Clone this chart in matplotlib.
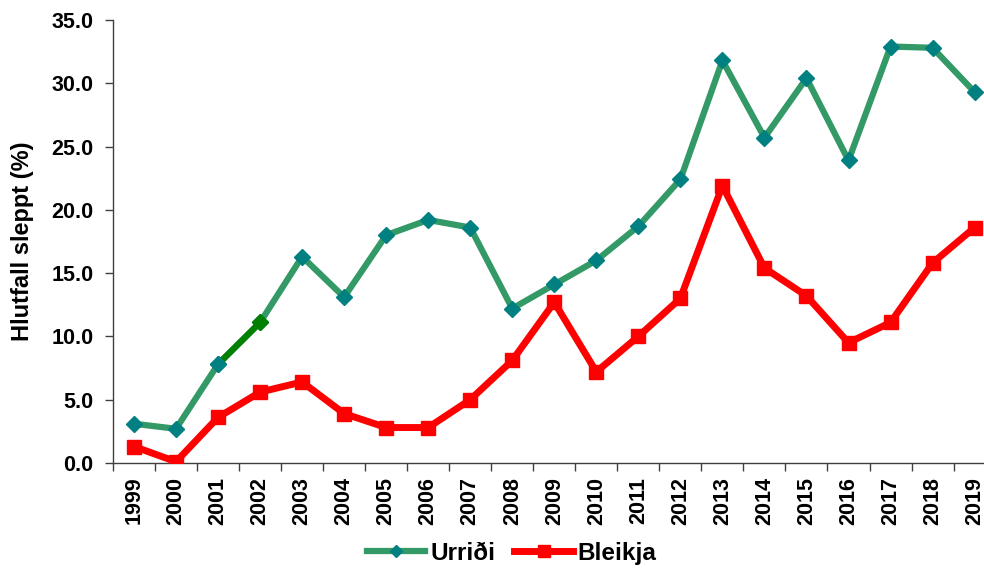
import numpy as np
import matplotlib.pyplot as plt
from matplotlib.ticker import FixedLocator, FormatStrFormatter

plt.rcParams['font.family'] = ['Liberation Sans', 'DejaVu Sans']
plt.rcParams['font.weight'] = 'bold'

years = [str(y) for y in range(1999, 2020)]
urridi = [3.1, 2.7, 7.8, 11.1, 16.3, 13.1, 18.0, 19.2, 18.6, 12.2, 14.1,
          16.0, 18.7, 22.4, 31.8, 25.7, 30.4, 23.9, 32.9, 32.8, 29.3]
bleikja = [1.3, 0.1, 3.6, 5.6, 6.4, 3.9, 2.8, 2.8, 5.0, 8.1, 12.7,
           7.2, 10.0, 13.0, 21.9, 15.4, 13.2, 9.5, 11.1, 15.8, 18.6]

x = np.arange(len(years))

fig = plt.figure(figsize=(9.84, 5.68), dpi=100)
ax = fig.add_axes([0.1148, 0.1849, 0.897, 0.780])

# trout series, with the 2001-2002 stretch drawn in plain green
ax.plot(x, urridi, color='#339966', lw=4.5, marker='D', ms=8,
        mfc='#008080', mec='#008080', label='Urriði', zorder=3)
ax.plot(x[2:4], urridi[2:4], color='#008000', lw=4.5, zorder=3.5)
ax.plot(x[3], urridi[3], 'D', color='#008000', ms=8, zorder=4)
ax.plot(x[2], urridi[2], 'D', color='#008080', ms=8, zorder=4)

ax.plot(x, bleikja, color='#ff0000', lw=5, marker='s', ms=10,
        label='Bleikja', zorder=3)

ax.set_xlim(-0.5, len(years) - 0.5)
ax.set_ylim(0, 35)
ax.set_yticks(np.arange(0, 36, 5))
ax.yaxis.set_major_formatter(FormatStrFormatter('%.1f'))
ax.set_xticks(x)
ax.set_xticklabels(years, rotation=90, fontsize=15.5, fontweight='bold')
ax.xaxis.set_minor_locator(FixedLocator(np.arange(-0.5, len(years), 1)))
ax.tick_params(axis='x', which='major', length=0, pad=10)
ax.tick_params(axis='x', which='minor', length=6, width=1, color='#404040')
ax.tick_params(axis='y', length=6, width=1, color='#404040', labelsize=15.5, pad=8)
for lab in ax.get_yticklabels():
    lab.set_fontweight('bold')

ax.set_ylabel('Hlutfall sleppt (%)', fontsize=17, fontweight='bold')
ax.yaxis.set_label_coords(-0.09, 0.5)

for s in ['top', 'right']:
    ax.spines[s].set_visible(False)
for s in ['left', 'bottom']:
    ax.spines[s].set_color('#404040')
    ax.spines[s].set_linewidth(1)

handles, labels = ax.get_legend_handles_labels()
fig.legend(handles[:1] + handles[-1:], ['Urriði', 'Bleikja'],
           loc='center', bbox_to_anchor=(0.52, 0.026), ncol=2, frameon=False,
           prop={'size': 17.5, 'weight': 'bold'}, handlelength=2.4,
           columnspacing=0.8, handletextpad=0.2, borderaxespad=0,
           markerscale=0.8)

fig.savefig('out.png', dpi=100)
